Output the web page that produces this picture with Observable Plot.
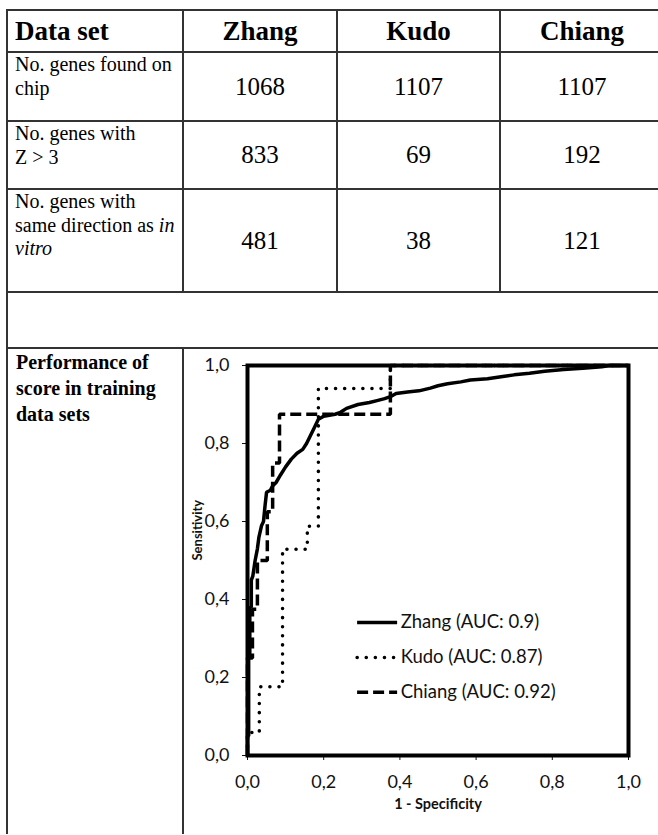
<!DOCTYPE html>
<html><head><meta charset="utf-8">
<script src="https://cdn.jsdelivr.net/npm/d3@7"></script>
<script src="https://cdn.jsdelivr.net/npm/@observablehq/plot@0.6"></script>
<style>
html,body{margin:0;padding:0;background:#fff;overflow:hidden;width:658px;height:835px}
#page{position:relative;width:658px;height:835px;overflow:hidden;font-family:"Liberation Serif","Times New Roman",serif;color:#000}
.hl{position:absolute;height:2px;background:#333}
.vl{position:absolute;width:2px;background:#333}
.cell{position:absolute;box-sizing:border-box}
.num{display:flex;align-items:center;justify-content:center;font-size:25px}
.head{display:flex;align-items:center;justify-content:center;font-size:27px;font-weight:bold}
.headL{display:flex;align-items:center;justify-content:flex-start;padding-left:8px;font-size:27px;font-weight:bold}
.lab{font-size:20px;line-height:23.5px;padding:1px 0 0 8px;white-space:nowrap}
.labB{font-size:20px;line-height:26px;padding:1px 0 0 9px;white-space:nowrap;font-weight:bold}
#chart{position:absolute;left:184px;top:349px}
</style></head><body><div id="page"></div>
<script>
// ---- table data ----
const headerLabel = "Data set";
const datasets = ["Zhang", "Kudo", "Chiang"];
const rowLabelLines = [
  ["No. genes found on", "chip"],
  ["No. genes with", "Z > 3"],
  ["No. genes with", "same direction as <i>in</i>", "<i>vitro</i>"]
];
const genesFound = [1068, 1107, 1107];
const genesZ3 = [833, 69, 192];
const genesSameDir = [481, 38, 121];
const perfLabelLines = ["Performance of", "score in training", "data sets"];

// ---- ROC data ----
const aucs = [0.9, 0.87, 0.92];
const zhangFpr = [0,0,0.003,0.003,0.006,0.006,0.01,0.01,0.014,0.02,0.026,0.03,0.037,0.042,0.046,0.05,0.06,0.065,0.075,0.087,0.1,0.115,0.13,0.145,0.155,0.165,0.175,0.186,0.2,0.23,0.244,0.26,0.29,0.32,0.34,0.36,0.375,0.39,0.42,0.45,0.48,0.5,0.525,0.56,0.585,0.63,0.67,0.7,0.74,0.78,0.83,0.88,0.93,0.95,1];
const zhangTpr = [0,0.05,0.05,0.25,0.25,0.38,0.38,0.45,0.46,0.5,0.53,0.56,0.59,0.6,0.64,0.675,0.68,0.69,0.7,0.72,0.74,0.76,0.775,0.785,0.8,0.82,0.84,0.862,0.87,0.875,0.88,0.89,0.9,0.905,0.91,0.915,0.92,0.928,0.932,0.935,0.942,0.948,0.953,0.958,0.963,0.966,0.972,0.976,0.98,0.985,0.99,0.993,0.997,1,1];
const kudoFpr = [0,0,0.031,0.031,0.092,0.092,0.157,0.157,0.186,0.186,0.375,0.375,1];
const kudoTpr = [0,0.059,0.059,0.176,0.176,0.529,0.529,0.588,0.588,0.941,0.941,1,1];
const chiangFpr = [0,0,0.013,0.013,0.026,0.026,0.052,0.052,0.066,0.066,0.084,0.084,0.375,0.375,1];
const chiangTpr = [0,0.25,0.25,0.375,0.375,0.5,0.5,0.625,0.625,0.75,0.75,0.875,0.875,1,1];
const tickValues = [0, 0.2, 0.4, 0.6, 0.8, 1];

// ---- layout of table ----
const colX = [7, 183, 337, 500, 664];
const rowY = [10, 52, 121, 189, 292, 348, 900];
const page = document.getElementById("page");
function el(cls, css, html) {
  const d = document.createElement("div");
  d.className = cls;
  Object.assign(d.style, css);
  if (html != null) d.innerHTML = html;
  page.appendChild(d);
  return d;
}
function box(c0, c1, r0, r1) {
  return {left: colX[c0] + "px", width: (colX[c1] - colX[c0]) + "px", top: rowY[r0] + "px", height: (rowY[r1] - rowY[r0]) + "px"};
}
// header
el("cell headL", box(0, 1, 0, 1), headerLabel);
datasets.forEach((d, i) => el("cell head", box(i + 1, i + 2, 0, 1), d));
// body rows
const valueRows = [genesFound, genesZ3, genesSameDir];
rowLabelLines.forEach((lines, r) => {
  el("cell lab", box(0, 1, r + 1, r + 2), lines.join("<br>"));
  valueRows[r].forEach((v, i) => el("cell num", box(i + 1, i + 2, r + 1, r + 2), String(v)));
});
el("cell labB", box(0, 1, 5, 6), perfLabelLines.join("<br>"));
// grid lines
[0, 1, 2, 3, 4, 5].forEach(r => el("hl", {left: colX[0] + "px", top: (rowY[r] - 1) + "px", width: (colX[4] - colX[0]) + "px"}));
el("vl", {left: (colX[0] - 1) + "px", top: (rowY[0] - 1) + "px", height: (835 - rowY[0]) + "px"});
[1, 2, 3, 4].forEach(c => el("vl", {left: (colX[c] - 1) + "px", top: (rowY[0] - 1) + "px", height: (rowY[4] - rowY[0] + 1) + "px"}));
el("vl", {left: (colX[1] - 1) + "px", top: (rowY[5] - 1) + "px", height: (835 - rowY[5]) + "px"});

// ---- chart ----
const rocRows = [];
[[datasets[0], zhangFpr, zhangTpr], [datasets[1], kudoFpr, kudoTpr], [datasets[2], chiangFpr, chiangTpr]]
  .forEach(([s, xs, ys]) => xs.forEach((x, i) => rocRows.push({s, x, y: ys[i]})));
const dash = {Zhang: null, Kudo: "0.1 9", Chiang: "11 5"};
const fmt = d => d.toFixed(1).replace(".", ",");
const legendRows = datasets.map((s, i) => ({s, label: `${s} (AUC: ${aucs[i]})`, y: 0.341 - i * 0.0895}));

const marks = [
  Plot.axisY({ticks: tickValues, tickFormat: fmt, tickSize: 5, tickPadding: 13, label: null, fontSize: 18}),
  Plot.axisX({ticks: tickValues, tickFormat: fmt, tickSize: 5, tickPadding: 15, label: null, fontSize: 18}),
  Plot.text(["Sensitivity"], {frameAnchor: "left", rotate: -90, dx: -50, fontWeight: "bold", fontSize: 13, fill: "#111"}),
  Plot.text(["1 - Specificity"], {frameAnchor: "bottom", dy: 53, fontWeight: "bold", fontSize: 14.5, fill: "#111"})
];
datasets.forEach(s => {
  marks.push(Plot.line(rocRows.filter(d => d.s === s), {x: "x", y: "y", stroke: "black", strokeWidth: 3.5, strokeDasharray: dash[s], strokeLinecap: s === "Kudo" ? "round" : "butt", strokeLinejoin: "miter"}));
  marks.push(Plot.ruleY(legendRows.filter(d => d.s === s), {y: "y", x1: d => 0.289, x2: d => 0.394, stroke: "black", strokeWidth: 3.5, strokeDasharray: dash[s], strokeLinecap: s === "Kudo" ? "round" : "butt"}));
});
marks.push(Plot.text(legendRows, {x: d => 0.402, y: "y", text: "label", textAnchor: "start", fontSize: 18.5, fill: "#111"}));
marks.push(Plot.frame({stroke: "black", strokeWidth: 4}));

const chart = Plot.plot({
  width: 474, height: 486,
  marginLeft: 63, marginRight: 30, marginTop: 16, marginBottom: 80,
  style: {fontFamily: "Lato, 'Open Sans', sans-serif", fontSize: "18px", color: "#111", background: "white", overflow: "visible"},
  x: {domain: [0, 1]},
  y: {domain: [0, 1]},
  marks
});
chart.id = "chart";
page.appendChild(chart);
</script></body></html>
